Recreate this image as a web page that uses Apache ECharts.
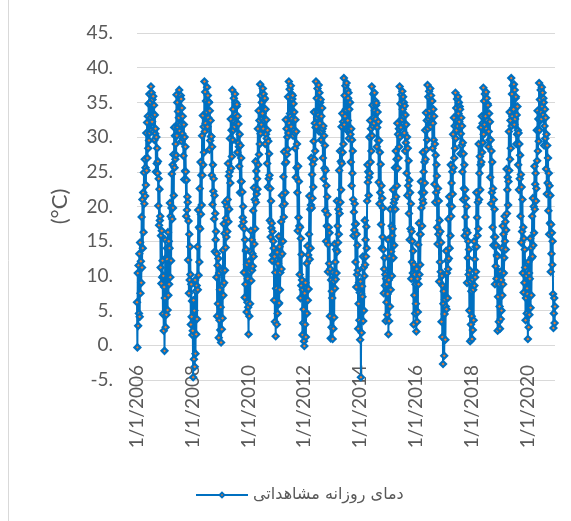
<!DOCTYPE html>
<html>
<head>
<meta charset="utf-8">
<script src="https://cdn.jsdelivr.net/npm/echarts@6/dist/echarts.min.js"></script>
<style>
html,body{margin:0;padding:0;background:#fff;}
#c{width:571px;height:521px;}
</style>
</head>
<body>
<div id="c"></div>
<script>
const years = [2006,2007,2008,2009,2010,2011,2012,2013,2014,2015,2016,2017,2018,2019,2020];
const sampleDays = [1, 6, 11, 16, 21, 26];
const t2006 = [6.2,-0.3,10.4,2.8,11.5,4.6, 13.2,4.1,14.8,7.5,12.1,9.0, 18.5,11.2,21.0,14.0,22.0,16.3, 24.9,20.4,26.8,21.5,25.6,23.1, 30.6,25.2,32.1,27.0,33.0,28.4, 34.8,29.5,36.2,30.6,35.0,32.8, 37.3,31.0,36.4,32.2,35.4,33.0, 35.9,30.8,34.6,29.6,33.2,30.5, 31.2,25.0,30.0,26.2,28.4,24.8, 26.5,20.1,24.0,17.3,22.5,18.0, 18.6,11.2,15.8,8.9,16.5,9.8, 12.2,4.5,10.0,2.1,8.4,-0.8];
const t2007 = [6.8,15.2,2.6,12.6,4.4,14.0, 12.4,5.1,16.3,7.2,15.0,8.8, 14.0,20.5,9.8,18.6,12.2,19.8, 24.7,18.2,26.0,19.8,27.5,21.6, 31.4,25.6,30.2,26.8,29.0,27.4, 36.1,30.2,35.0,31.4,33.7,32.0, 32.8,36.8,30.9,35.6,31.8,36.0, 35.5,29.4,34.2,30.5,33.0,29.8, 27.3,31.8,23.9,30.0,25.1,28.6, 25.0,18.6,23.8,19.5,21.4,20.6, 12.3,17.9,7.5,16.0,9.4,14.2, 10.2,3.0,8.8,4.1,6.4,1.5];
const t2008 = [2.1,-4.6,6.5,-2.0,5.0,-3.1, 9.4,-1.2,7.8,1.6,8.6,3.8, 14.2,8.0,19.5,10.1,17.0,12.0, 22.6,16.8,26.4,18.9,24.5,20.2, 30.2,24.5,33.1,26.0,31.5,27.8, 38.0,30.8,36.5,32.0,35.2,33.4, 33.6,37.2,31.5,36.0,32.8,35.1, 35.0,28.2,33.8,29.5,32.4,30.1, 30.1,24.5,28.6,20.3,26.0,22.2, 24.0,18.2,21.6,13.5,19.0,15.2, 16.4,9.8,13.2,4.2,11.5,6.0, 12.5,1.1,10.4,3.6,8.0,2.2];
const t2009 = [5.5,0.4,10.8,2.3,8.6,3.9, 13.7,7.2,17.5,9.0,16.1,10.8, 20.6,14.1,18.3,15.6,20.0,16.4, 21.0,26.2,17.8,24.4,19.6,25.0, 29.8,23.4,32.6,25.5,31.0,27.2, 36.8,29.6,34.0,31.0,35.6,32.2, 31.5,36.2,33.3,35.0,32.0,34.4, 34.7,27.8,33.0,29.2,31.9,28.6, 25.8,30.4,22.0,28.8,23.6,27.0, 23.6,17.2,22.1,18.4,20.0,17.8, 10.5,16.8,6.9,15.2,8.8,13.6, 13.8,4.8,11.6,6.2,9.6,5.5];
const t2010 = [1.6,12.1,4.2,10.6,6.0,13.5, 16.5,9.3,15.2,10.8,13.2,11.4, 19.4,12.8,22.7,14.6,21.0,16.8, 26.5,20.6,25.1,21.8,24.0,22.5, 31.2,26.0,33.8,27.5,32.4,29.0, 37.6,30.5,36.0,31.8,35.0,32.6, 33.4,37.0,31.2,36.2,32.4,35.4, 35.6,29.0,34.0,30.4,32.5,29.8, 26.2,31.0,22.8,29.4,24.0,27.6, 24.5,18.0,22.6,15.6,20.8,16.9, 17.6,12.2,16.4,13.0,15.0,14.0, 6.5,12.8,3.4,10.5,1.3,8.2];
const t2011 = [8.2,3.0,13.4,4.6,11.8,5.9, 15.7,6.1,14.2,8.0,10.5,12.9, 17.8,11.0,21.6,13.2,20.1,15.0, 24.3,18.5,27.9,20.4,26.2,22.0, 32.5,26.4,31.2,27.5,30.0,28.2, 35.8,30.6,38.0,32.0,36.9,33.4, 33.0,37.4,31.5,36.2,32.6,35.5, 36.0,30.2,34.8,31.0,33.6,30.6, 28.4,32.5,24.2,30.8,25.6,29.0, 22.0,16.5,25.8,18.4,23.6,17.2, 10.2,17.0,6.8,15.4,8.6,13.1, 9.4,1.5,8.0,3.2,5.2,0.6];
const t2012 = [-0.1,7.5,3.0,9.0,1.2,8.2, 11.8,4.6,14.3,6.5,13.0,8.1, 16.0,21.5,12.4,19.6,14.0,20.2, 27.0,19.8,24.6,21.2,26.1,22.8, 29.4,33.6,26.8,32.0,28.0,31.4, 38.0,31.5,35.6,32.8,37.0,33.6, 33.2,37.5,30.8,36.4,32.0,35.0, 35.4,29.6,33.0,30.8,34.2,31.2, 27.0,31.6,24.0,30.2,25.5,28.8, 19.4,25.2,15.0,23.0,17.2,21.4, 18.8,10.6,14.5,17.0,11.8,16.2, 4.2,11.0,1.0,9.4,2.6,7.8];
const t2013 = [6.8,0.9,10.5,2.4,9.2,4.0, 14.6,8.2,12.0,9.5,13.8,10.4, 20.8,13.5,17.2,14.8,19.6,16.0, 25.2,19.0,28.0,20.6,26.5,22.4, 31.5,26.2,33.4,27.8,32.2,29.0, 38.5,31.8,36.0,33.0,37.4,34.0, 33.9,37.8,31.0,36.8,32.4,35.6, 36.4,29.8,34.0,31.0,35.0,30.4, 26.4,31.2,23.0,29.6,24.8,28.0, 21.0,15.8,19.2,16.6,20.4,17.4, 12.0,17.5,8.4,16.0,10.2,14.4, 10.8,2.4,6.0,9.0,3.6,7.6];
const t2014 = [0.8,9.2,-4.6,7.4,1.8,8.5, 7.0,12.8,3.5,11.2,5.0,10.0, 18.0,11.6,15.2,12.8,17.1,14.0, 20.8,26.0,23.5,25.0,21.6,24.2, 30.0,24.8,32.4,26.4,31.2,28.0, 37.3,30.2,34.6,31.6,36.2,32.8, 32.0,36.4,33.8,35.2,32.6,34.6, 34.9,28.6,31.4,33.6,29.5,32.2, 23.5,29.5,20.4,27.8,22.0,26.1, 17.4,23.0,14.0,21.2,15.6,19.8, 13.8,7.5,11.0,12.6,8.6,10.2, 3.5,9.6,6.2,8.8,4.4,7.4];
const t2015 = [15.2,1.6,9.4,3.5,12.8,5.6, 19.6,8.0,13.5,17.2,10.0,15.8, 16.8,22.4,12.6,20.5,14.4,21.0, 25.6,19.6,28.0,21.4,26.8,23.0, 32.0,25.5,30.4,27.0,31.2,28.6, 37.3,30.0,34.8,31.4,36.1,32.6, 32.5,36.6,34.0,35.8,33.0,35.0, 30.6,34.5,28.0,33.2,29.2,31.8, 24.8,30.0,21.6,28.4,23.0,26.6, 19.0,23.8,15.2,22.0,16.8,20.4, 9.6,16.4,12.0,15.0,10.4,13.6, 3.0,11.6,7.2,10.2,4.6,8.8];
const t2016 = [6.0,2.0,11.0,3.4,9.6,4.8, 14.5,8.8,17.6,10.2,16.0,11.6, 16.0,23.6,19.8,22.0,17.2,21.0, 27.8,20.5,25.0,22.0,26.4,23.4, 31.0,26.8,33.5,28.2,32.4,29.6, 37.5,31.2,35.8,32.6,36.6,33.8, 33.0,37.0,31.5,36.0,32.2,35.2, 35.2,28.4,32.0,34.0,29.6,33.0, 23.2,29.0,20.6,27.4,22.0,26.0, 24.4,17.0,14.6,22.6,16.0,20.8, 9.2,18.0,12.0,16.4,10.6,14.8, 3.4,10.0,1.2,8.6,-2.7,6.0];
const t2017 = [7.8,-1.5,4.5,6.6,0.8,5.6, 13.6,5.2,10.4,12.2,6.8,11.0, 18.2,12.5,21.4,14.0,20.2,15.8, 26.0,18.6,23.4,20.0,25.0,21.8, 30.4,25.6,32.8,27.0,31.6,28.4, 36.4,29.8,34.2,31.0,35.5,32.4, 31.6,35.8,33.4,35.0,32.2,34.4, 34.0,27.6,30.5,32.8,28.8,31.6, 25.0,29.2,21.0,27.6,22.6,26.0, 15.8,22.4,18.5,21.2,16.6,20.0, 9.0,16.2,12.6,15.0,10.2,13.8, 5.0,10.8,0.6,9.2,3.0,7.8];
const t2018 = [4.2,0.9,9.5,2.2,8.0,3.6, 15.0,8.6,12.4,9.8,14.2,10.6, 22.0,14.2,18.4,15.8,20.6,16.8, 29.0,21.0,24.8,27.2,22.4,26.0, 31.4,26.4,33.0,27.8,32.0,29.2, 37.1,30.4,35.2,31.8,36.2,33.0, 33.0,36.5,31.2,35.6,32.4,34.8, 34.6,28.6,30.8,33.4,29.6,32.2, 24.2,29.6,20.4,28.0,22.0,26.4, 17.0,22.6,14.4,21.0,15.6,19.6, 8.8,15.6,11.4,14.4,9.6,13.0, 12.8,2.1,7.0,10.6,3.4,8.8];
const t2019 = [5.6,2.4,10.6,3.8,9.4,5.0, 14.0,7.2,17.2,8.8,16.0,10.4, 12.6,18.6,15.0,17.8,13.8,16.6, 25.4,19.0,22.4,24.2,20.2,23.6, 30.8,25.2,33.6,26.8,32.4,28.4, 38.5,31.6,36.2,33.0,37.4,34.2, 34.0,37.6,31.8,36.8,32.6,35.6, 35.8,29.0,33.2,30.4,34.4,31.0, 26.0,30.6,22.4,29.0,24.0,27.4, 18.6,24.6,14.8,22.8,16.4,21.0, 10.4,17.0,7.6,15.4,9.0,13.8, 11.2,3.6,6.8,10.0,4.6,8.2];
const t2020 = [7.4,0.9,12.0,2.6,10.4,4.4, 9.6,15.4,5.4,14.0,7.2,12.6, 18.6,12.8,21.2,14.4,20.0,16.2, 25.8,19.6,23.2,24.8,20.8,22.6, 31.0,26.6,33.8,28.0,32.6,29.4, 37.8,31.0,35.4,32.4,36.8,33.6, 32.6,37.2,34.4,36.4,33.2,35.6, 35.0,28.8,31.6,34.0,29.8,32.8, 25.4,30.4,21.8,28.8,23.4,27.0, 19.4,24.8,16.0,23.0,17.6,21.6, 10.6,17.4,13.2,16.2,11.6,15.0, 7.4,2.5,4.6,6.8,3.2,5.6];
const yTicks = [-5, 0, 5, 10, 15, 20, 25, 30, 35, 40, 45];
const seriesName = 'دمای روزانه مشاهداتی';
const yTitle = '(°C)';

const yearly = [t2006,t2007,t2008,t2009,t2010,t2011,t2012,t2013,t2014,t2015,t2016,t2017,t2018,t2019,t2020];
const dates = [];
const values = [];
const n = sampleDays.length;
years.forEach((y, yi) => {
  const arr = yearly[yi];
  for (let m = 0; m < 12; m++) {
    sampleDays.forEach((d, di) => {
      dates.push((m + 1) + '/' + d + '/' + y);
      values.push(arr[m * n + di]);
    });
  }
});

const chart = echarts.init(document.getElementById('c'), null, {renderer: 'canvas'});
chart.setOption({
  animation: false,
  backgroundColor: '#ffffff',
  textStyle: {fontFamily: 'Lato, "DejaVu Sans", sans-serif'},
  grid: {left: 137, right: 16, top: 33, bottom: 141, containLabel: false},
  graphic: [{
    type: 'line', shape: {x1: 8.5, y1: 0, x2: 8.5, y2: 521},
    style: {stroke: '#d9d9d9', lineWidth: 1}, silent: true
  }],
  xAxis: {
    type: 'category',
    data: dates,
    boundaryGap: false,
    axisLine: {show: false, onZero: false},
    axisTick: {show: false},
    splitLine: {show: false},
    axisLabel: {
      rotate: 90,
      margin: -15,
      fontSize: 19,
      color: '#595959',
      interval: function (idx, val) {
        const p = val.split('/');
        return p[0] === '1' && p[1] === '1' && (+p[2]) % 2 === 0;
      }
    }
  },
  yAxis: {
    type: 'value',
    min: yTicks[0],
    max: yTicks[yTicks.length - 1],
    interval: 5,
    name: yTitle,
    nameLocation: 'middle',
    nameGap: 66,
    nameRotate: 90,
    nameTextStyle: {fontSize: 22, color: '#595959'},
    axisLine: {show: false},
    axisTick: {show: false},
    splitLine: {lineStyle: {color: '#d9d9d9', width: 1}},
    axisLabel: {
      margin: 24,
      fontSize: 19,
      color: '#595959',
      formatter: function (v) { return v + '.'; }
    }
  },
  legend: {
    left: 190,
    top: 482,
    itemWidth: 52,
    itemHeight: 6,
    textStyle: {fontSize: 16, color: '#595959', fontFamily: '"DejaVu Sans", sans-serif'},
    data: [seriesName]
  },
  series: [{
    name: seriesName,
    type: 'line',
    data: values,
    showAllSymbol: true,
    symbol: 'diamond',
    symbolSize: 6,
    lineStyle: {color: '#0070C0', width: 2},
    itemStyle: {color: '#ED7D31', borderColor: '#0070C0', borderWidth: 2.2},
    emphasis: {disabled: true},
    z: 3
  }]
});
</script>
</body>
</html>
